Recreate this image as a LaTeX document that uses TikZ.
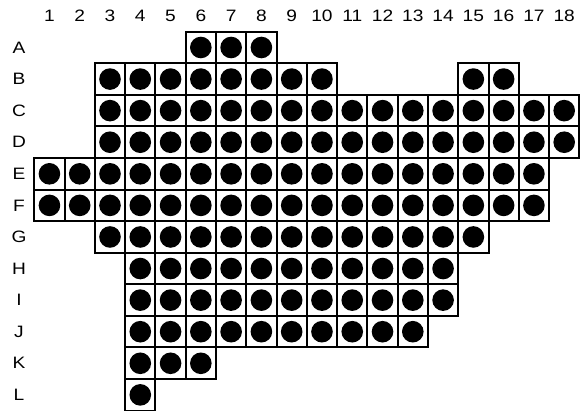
\documentclass[tikz,border=0pt]{standalone}
\usepackage{fontspec}
\setmainfont{Liberation Sans}
\newfontfamily\gridlabelfont[FakeStretch=1.16]{Liberation Sans}
\usepackage{tikz}
\usetikzlibrary{positioning}
\tikzset{
  cellbox/.style={
    draw=black, fill=white, line width=2pt,
    minimum width=30.28pt, minimum height=31.58pt,
    inner sep=0pt, outer sep=0pt
  },
  pegdot/.style={
    circle, fill=black, minimum size=21.6pt, inner sep=0pt
  },
  axislabel/.style={
    font=\gridlabelfont\fontsize{16.5}{18}\selectfont, inner sep=0pt
  }
}
\begin{document}
\begin{tikzpicture}[x=1pt, y=-1pt]
  \useasboundingbox (0,0) rectangle (582,411);

  % column numbers
  \foreach \c in {1,...,18}
    \node[axislabel] (col\c) at ({34.3+(\c-0.5)*30.28}, 16) {\c};

  % rows: index / letter / occupied columns
  \foreach \r/\lab/\cols in {
      1/A/{6,...,8},
      2/B/{3,...,10,15,16},
      3/C/{3,...,18},
      4/D/{3,...,18},
      5/E/{1,...,17},
      6/F/{1,...,17},
      7/G/{3,...,15},
      8/H/{4,...,14},
      9/I/{4,...,14},
      10/J/{4,...,13},
      11/K/{4,5,6},
      12/L/{4}} {
    \node[axislabel] (row\lab) at (19, {31.7+(\r-0.5)*31.58}) {\lab};
    \foreach \c in \cols {
      \node[cellbox] (cell\lab\c) at ({34.3+(\c-0.5)*30.28}, {31.7+(\r-0.5)*31.58}) {};
      \node[pegdot] (peg\lab\c) at (cell\lab\c.center) {};
    }
  }
\end{tikzpicture}
\end{document}
